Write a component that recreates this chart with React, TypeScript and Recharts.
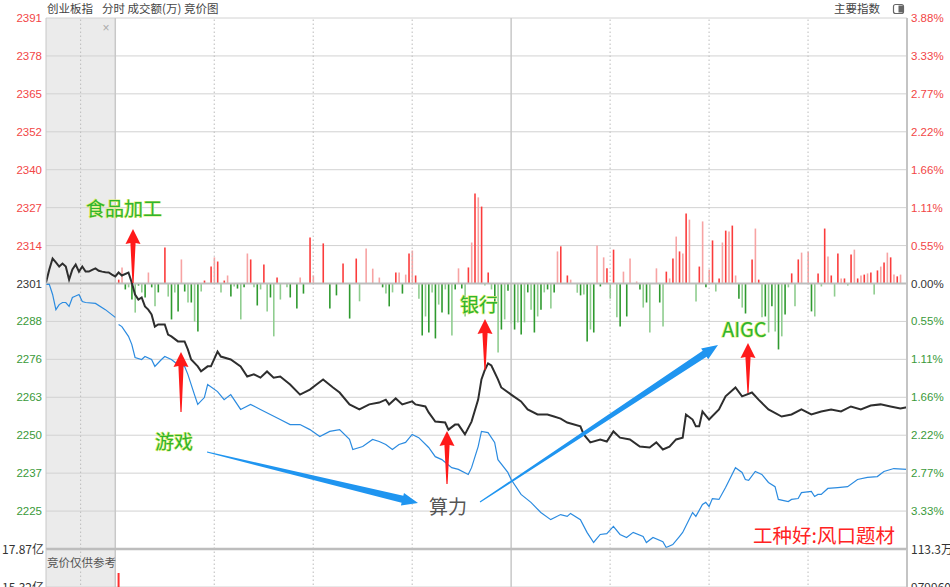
import React from 'react';
import { ComposedChart, Line, Bar, XAxis, YAxis, CartesianGrid, ReferenceLine, Cell } from 'recharts';

// ---------- scale constants ----------
const PREV_CLOSE = 2301.2;
const STEP = 12.77;
const PCT_STEP = (STEP / PREV_CLOSE) * 100;
const T_MIN = -21;
const T_MAX = 240;

// ---------- tick labels ----------
const priceTickLabels = ['2225', '2237', '2250', '2263', '2276', '2288', '2301', '2314', '2327', '2340', '2352', '2365', '2378', '2391'];
const pctTickLabels = ['3.33%', '2.77%', '2.22%', '1.66%', '1.11%', '0.55%', '0.00%', '0.55%', '1.11%', '1.66%', '2.22%', '2.77%', '3.33%', '3.88%'];
const volLeftLabels = ['15.32亿', '17.87亿'];
const volRightLabels = ['979960', '113.3万'];

// ---------- series (minute, value) ----------
const indexLine: [number, number][] = [
  [-21, 2301.5], [-20, 2305.9], [-19, 2309.6], [-18, 2308.3], [-17, 2306.9], [-16, 2307.9], [-15, 2306.9], [-14, 2302.5],
  [-13, 2305.9], [-12, 2307.6], [-11, 2305.2], [-10, 2306.9], [-9, 2305.2], [-8, 2305.2], [-7, 2305.8], [-6, 2306.3],
  [-5, 2305.5], [-4, 2305.2], [-3, 2305.0], [-2, 2304.9], [-1, 2304.2], [0, 2303.6],
  [1, 2304.9], [2, 2303.9], [4, 2304.9], [5, 2301.5], [6, 2297.5], [7, 2295.8], [8, 2296.5], [9, 2293.5], [10, 2292.4],
  [11, 2290.8], [12, 2286.7], [13, 2287.4], [15, 2287.4], [16, 2284.0], [17, 2283.4], [19, 2281.7], [21, 2281.7],
  [22, 2279.0], [23, 2275.6], [25, 2273.3], [26, 2271.6], [28, 2273.3], [29, 2273.3], [31, 2278.3], [32, 2276.6],
  [35, 2275.6], [38, 2273.3], [40, 2269.9], [42, 2270.6], [44, 2269.5], [46, 2271.6], [48, 2269.5], [50, 2269.9],
  [53, 2267.2], [56, 2263.8], [59, 2265.5], [61, 2267.2], [63, 2268.9], [66, 2266.2], [68, 2264.5], [71, 2260.5],
  [74, 2258.8], [77, 2260.5], [80, 2261.1], [82, 2262.1], [83, 2260.5], [85, 2262.5], [87, 2260.5], [90, 2261.5],
  [91, 2260.5], [94, 2259.8], [95, 2257.8], [97, 2254.7], [100, 2254.4], [101, 2252.0], [103, 2253.7], [104, 2253.7],
  [106, 2250.4], [108, 2254.7], [110, 2262.1], [111, 2268.9], [112, 2272.0], [113, 2274.3], [114, 2273.6], [116, 2268.9],
  [117, 2266.2], [120, 2263.8], [123, 2261.5], [125, 2258.8], [128, 2257.1], [131, 2257.1], [133, 2256.4], [135, 2255.7],
  [137, 2254.4], [141, 2253.1], [142, 2250.4], [144, 2247.7], [147, 2248.7], [149, 2248.0], [151, 2251.4], [153, 2249.3],
  [156, 2248.7], [159, 2246.3], [162, 2246.0], [164, 2247.7], [166, 2245.3], [168, 2246.3], [170, 2248.7], [172, 2249.3],
  [173, 2257.1], [175, 2255.4], [176, 2253.1], [177, 2253.1], [178, 2258.1], [180, 2255.4], [183, 2258.8], [185, 2263.2],
  [188, 2266.2], [190, 2263.2], [193, 2264.5], [195, 2262.1], [198, 2258.8], [202, 2256.4], [205, 2257.1], [208, 2258.8],
  [211, 2257.1], [214, 2258.1], [217, 2258.8], [220, 2258.1], [223, 2259.8], [226, 2258.8], [229, 2260.1], [232, 2260.5],
  [235, 2259.8], [238, 2259.1], [240, 2259.5],
];

const leadAuction: [number, number][] = [
  [-21, 2300.9], [-20, 2300.9], [-19, 2297.5], [-18, 2292.4], [-17, 2294.1], [-16, 2294.8], [-15, 2294.8], [-14, 2293.5],
  [-13, 2296.5], [-12, 2297.0], [-11, 2297.5], [-10, 2295.1], [-9, 2294.8], [-6, 2294.5], [-3, 2292.4], [0, 2289.8],
];

const leadSession: [number, number][] = [
  [1, 2287.4], [2, 2286.7], [4, 2283.4], [5, 2280.7], [6, 2276.3], [8, 2275.6], [9, 2276.6], [11, 2275.6], [12, 2273.3],
  [14, 2275.6], [15, 2276.6], [17, 2275.6], [19, 2273.9], [21, 2273.3], [22, 2270.6], [24, 2263.8], [25, 2260.5],
  [27, 2262.8], [28, 2267.2], [31, 2264.8], [33, 2262.1], [35, 2263.8], [38, 2258.8], [41, 2260.5], [44, 2258.8],
  [47, 2257.1], [50, 2255.4], [53, 2253.7], [56, 2253.7], [59, 2252.0], [62, 2249.7], [65, 2251.4], [68, 2252.0],
  [71, 2248.7], [72, 2245.3], [75, 2246.3], [78, 2248.7], [80, 2248.0], [82, 2247.0], [84, 2245.3], [86, 2247.0],
  [88, 2247.7], [90, 2250.4], [92, 2249.3], [95, 2246.0], [97, 2242.9], [99, 2241.9], [102, 2239.2], [104, 2238.6],
  [107, 2236.9], [108, 2239.2], [110, 2246.3], [111, 2251.4], [113, 2251.0], [115, 2247.7], [116, 2241.9], [119, 2237.6],
  [120, 2235.2], [123, 2230.2], [126, 2227.5], [129, 2224.1], [132, 2221.7], [135, 2223.4], [137, 2222.8], [138, 2223.8],
  [141, 2221.7], [143, 2217.4], [145, 2214.0], [147, 2216.7], [149, 2217.0], [151, 2219.4], [153, 2216.7], [155, 2215.7],
  [157, 2217.4], [160, 2216.0], [161, 2214.0], [163, 2215.7], [166, 2214.3], [167, 2212.3], [169, 2213.3], [171, 2216.0],
  [172, 2217.4], [175, 2224.1], [176, 2222.8], [178, 2226.8], [179, 2227.5], [180, 2226.1], [181, 2228.8], [183, 2228.5],
  [185, 2232.5], [188, 2239.2], [190, 2237.6], [191, 2235.2], [192, 2234.9], [194, 2237.9], [196, 2236.9], [198, 2234.2],
  [200, 2232.8], [201, 2228.5], [204, 2227.8], [205, 2228.5], [207, 2228.8], [208, 2230.8], [211, 2231.2], [212, 2229.5],
  [213, 2230.2], [214, 2230.2], [216, 2232.2], [219, 2232.5], [222, 2232.8], [225, 2235.2], [228, 2235.9], [231, 2236.2],
  [233, 2237.9], [236, 2238.9], [240, 2238.6],
];

// breadth bars, in index points above / below the previous close line
const breadthBars: [number, number][] = [
  [1, 1.3], [2, 5.4], [3, -2.0], [4, -1.3], [5, -5.4], [6, -9.8], [7, -0.7], [8, -3.0], [9, -4.7], [10, 3.7], [11, -1.3],
  [12, -7.7], [13, -3.0], [15, 12.1], [16, -4.4], [17, -12.1], [18, -3.0], [19, -9.4], [20, 8.1], [21, -2.7], [22, -6.4],
  [23, -6.4], [24, -12.8], [25, -16.2], [26, -2.7], [27, 1.0], [29, 5.7], [30, 8.8], [31, 7.4], [32, -3.0], [33, 1.0],
  [34, 2.7], [35, -4.4], [36, -1.0], [37, -1.7], [38, -12.1], [39, -1.3], [40, 10.1], [41, 8.1], [42, -1.3], [43, -7.4],
  [44, -2.0], [45, 6.4], [46, -9.4], [47, -4.7], [48, -17.8], [49, 2.0], [50, -5.4], [52, -1.3], [53, -4.7], [55, -8.4],
  [56, 2.0], [57, -3.4], [59, 15.5], [60, 2.7], [63, 13.5], [65, -8.4], [67, -4.0], [69, 6.7], [71, -11.8], [73, 8.4],
  [74, -6.0], [76, 11.8], [78, 5.0], [80, 2.0], [81, -1.3], [82, -3.4], [83, -7.7], [84, -3.0], [85, 3.7], [86, 3.7],
  [87, -3.4], [88, 3.0], [89, 10.1], [90, 11.1], [91, 2.7], [92, -5.1], [93, -17.5], [94, -11.1], [95, -16.5], [96, -3.0],
  [97, -18.5], [98, -7.1], [99, -9.8], [100, -2.0], [101, -10.4], [102, -17.5], [103, -2.0], [104, 5.1], [105, -1.7],
  [106, -11.1], [107, 5.4], [108, 13.8], [109, 30.3], [110, 29.0], [111, 25.9], [112, -0.7], [113, 3.7], [114, -2.0],
  [115, -6.7], [116, -23.2], [117, -15.5], [118, -12.1], [119, -2.4], [120, -13.5], [121, -15.5], [122, -13.1],
  [123, -17.2], [124, -13.1], [125, -3.0], [126, -8.8], [127, -16.5], [128, -11.1], [129, -8.8], [130, -3.0], [131, -2.0],
  [132, -8.4], [133, -3.0], [134, 10.8], [135, 12.5], [137, 2.7], [138, 1.3], [140, -3.1], [141, -4.0], [142, -3.7],
  [143, -19.5], [144, -15.5], [145, -16.5], [146, 12.8], [147, -1.0], [148, 8.8], [149, 5.1], [150, -5.1], [151, 11.4],
  [152, -11.4], [153, -14.5], [154, 4.0], [155, -11.1], [156, 8.4], [158, 0.7], [159, -2.0], [160, -8.1], [161, -6.4],
  [162, -16.5], [164, 5.1], [165, -6.4], [166, -14.5], [167, 4.0], [168, 1.7], [169, 8.4], [170, 15.8], [171, 10.8],
  [172, 10.1], [173, 23.6], [174, 21.5], [176, -6.1], [177, 5.7], [178, 20.9], [179, -1.3], [180, 4.7], [181, 14.5],
  [182, -2.7], [183, 1.7], [184, 13.8], [185, 17.8], [186, 17.5], [187, 19.5], [188, 2.7], [189, -5.1], [190, -8.1],
  [191, -10.1], [193, 8.1], [194, 18.5], [195, 1.3], [196, -11.4], [197, -11.1], [198, -16.5], [199, -7.7], [200, -16.2],
  [201, -22.2], [202, -17.8], [203, -10.4], [204, -1.3], [205, 3.4], [206, -7.7], [207, 8.1], [208, 10.4], [210, 10.8],
  [211, -9.4], [212, -11.1], [213, 3.4], [214, -1.0], [215, 18.5], [216, 9.1], [217, 2.7], [218, -4.4], [219, 10.1],
  [220, 1.7], [221, 1.7], [222, -0.7], [223, 9.8], [224, 11.4], [225, 1.7], [226, 2.7], [227, 3.0], [228, 3.4], [229, 3.7],
  [230, -3.7], [231, 4.4], [232, 5.7], [233, 7.1], [234, 10.4], [235, 8.8], [236, 3.0], [237, 2.4], [238, 3.0], [240, -2.0],
];

const auctionVolume: [number, number][] = [[1, 16.26]];

// ---------- build rows ----------
type Row = { t: number; idx?: number; leadA?: number; lead?: number; bar?: number };
const rowMap = new Map<number, Row>();
const put = (t: number, key: keyof Row, v: number) => {
  const r = rowMap.get(t) ?? { t };
  (r as any)[key] = v;
  rowMap.set(t, r);
};
indexLine.forEach(([t, v]) => put(t, 'idx', v));
leadAuction.forEach(([t, v]) => put(t, 'leadA', v));
leadSession.forEach(([t, v]) => put(t, 'lead', v));
// bars are drawn on the percent axis (0% = previous close)
breadthBars.forEach(([t, v]) => put(t, 'bar', (v / PREV_CLOSE) * 100));
const data: Row[] = Array.from(rowMap.values()).sort((a, b) => a.t - b.t);
const volData = auctionVolume.map(([t, v]) => ({ t, v }));

// ---------- styles ----------
const W = 950;
const LEFT_W = 46;
const RIGHT_W = 43;
const TOP = 18;
const MAIN_BOTTOM = 549;
const PLOT_W = W - LEFT_W - RIGHT_W;
const xOf = (t: number) => LEFT_W + ((t - T_MIN) * PLOT_W) / (T_MAX - T_MIN);

const RED_TXT = '#f24646';
const GREEN_TXT = '#3a9a3a';
const BASE_TXT = '#333333';
const GRID = '#d2d2d2';
const NUM_FONT = '"Liberation Sans", Arial, sans-serif';
const CJK_FONT = '"Noto Sans CJK SC", "Noto Sans", sans-serif';

const priceTicks = priceTickLabels.map((_, i) => PREV_CLOSE + (i - 6) * STEP);
const pctTicks = pctTickLabels.map((_, i) => (i - 6) * PCT_STEP);

const PriceTick = (props: any) => {
  const { y, payload } = props;
  const k = Math.round((payload.value - PREV_CLOSE) / STEP);
  const color = k > 0 ? RED_TXT : k < 0 ? GREEN_TXT : BASE_TXT;
  return (
    <text x={LEFT_W - 4} y={y} dy={4} textAnchor="end" fill={color} fontSize={11.5} fontFamily={NUM_FONT}>
      {priceTickLabels[k + 6]}
    </text>
  );
};

const PctTick = (props: any) => {
  const { y, payload } = props;
  const k = Math.round(payload.value / PCT_STEP);
  const color = k > 0 ? RED_TXT : k < 0 ? GREEN_TXT : BASE_TXT;
  return (
    <text x={W - RIGHT_W + 4} y={y} dy={4} textAnchor="start" fill={color} fontSize={11.5} fontFamily={NUM_FONT}>
      {pctTickLabels[k + 6]}
    </text>
  );
};

const VOL_TOP = 17.87;
const VOL_MID = 15.32;
const VOL_PX = (VOL_TOP - VOL_MID) / 38;
const AMT_TOP = 113.3;
const AMT_MID = 97.996;
const AMT_PX = (AMT_TOP - AMT_MID) / 38;
const VOL_CHART_TOP = 529;
const VOL_PLOT_H = 80;

const VolLeftTick = (props: any) => {
  const { y, index } = props;
  return (
    <text x={LEFT_W - 2} y={y} dy={5} textAnchor="end" fill="#333" fontSize={12} fontFamily={CJK_FONT}>
      {volLeftLabels[index]}
    </text>
  );
};
const VolRightTick = (props: any) => {
  const { y, index } = props;
  return (
    <text x={W - RIGHT_W + 4} y={y} dy={5} textAnchor="start" fill="#333" fontSize={12} fontFamily={CJK_FONT}>
      {volRightLabels[index]}
    </text>
  );
};

// ---------- annotation shapes ----------
const redArrow = (x: number, tip: number, headBase: number, tail: number) =>
  `M${x},${tip} L${x + 7.5},${headBase} L${x + 2.6},${headBase - 1} L${x + 0.6},${tail} L${x - 0.6},${tail} L${x - 2.6},${headBase - 1} L${x - 7.5},${headBase} Z`;

const blueArrow = (x1: number, y1: number, x2: number, y2: number) => {
  const dx = x2 - x1;
  const dy = y2 - y1;
  const len = Math.hypot(dx, dy);
  const ux = dx / len;
  const uy = dy / len;
  const nx = -uy;
  const ny = ux;
  const h = 16;
  const bx = x2 - ux * h;
  const by = y2 - uy * h;
  const p = (px: number, py: number) => `${px.toFixed(1)},${py.toFixed(1)}`;
  return `M${p(x1 + nx * 0.6, y1 + ny * 0.6)} L${p(bx + nx * 3.6, by + ny * 3.6)} L${p(bx + nx * 6.5, by + ny * 6.5)} L${p(x2, y2)} L${p(bx - nx * 6.5, by - ny * 6.5)} L${p(bx - nx * 3.6, by - ny * 3.6)} L${p(x1 - nx * 0.6, y1 - ny * 0.6)} Z`;
};

const barColor = (r: Row) => {
  const v = r.bar ?? 0;
  const light = r.t % 2 === 0;
  if (v >= 0) return light ? '#f7a3a3' : '#fb3c3c';
  return light ? '#8fcd8f' : '#2f9a2f';
};

const greenLabel = {
  fill: '#2fb52f',
  stroke: '#e2ef7a',
  strokeWidth: 1.2,
  paintOrder: 'stroke' as const,
  fontFamily: CJK_FONT,
};

export default function App() {
  const sessionStartX = xOf(0);
  return (
    <div style={{ position: 'absolute', left: 0, top: 0, width: W, height: 587, overflow: 'hidden', background: '#fff' }}>
      {/* auction shading */}
      <div
        style={{
          position: 'absolute',
          left: LEFT_W,
          top: TOP,
          width: sessionStartX - LEFT_W,
          height: 587 - TOP,
          background: '#ebebeb',
        }}
      />
      {/* main chart */}
      <div style={{ position: 'absolute', left: 0, top: 0 }}>
        <ComposedChart width={W} height={MAIN_BOTTOM} data={data} margin={{ top: TOP, right: 0, bottom: 0, left: 0 }}>
          <XAxis dataKey="t" type="number" domain={[T_MIN, T_MAX]} hide allowDataOverflow />
          <YAxis
            yAxisId="price"
            orientation="left"
            width={LEFT_W}
            domain={[PREV_CLOSE - 7 * STEP, PREV_CLOSE + 7 * STEP]}
            ticks={priceTicks}
            interval={0}
            tick={<PriceTick />}
            tickSize={0}
            tickMargin={4}
            tickLine={false}
            axisLine={{ stroke: '#c8c8c8' }}
            allowDataOverflow
          />
          <YAxis
            yAxisId="pct"
            orientation="right"
            width={RIGHT_W}
            domain={[-7 * PCT_STEP, 7 * PCT_STEP]}
            ticks={pctTicks}
            interval={0}
            tick={<PctTick />}
            tickSize={0}
            tickMargin={4}
            tickLine={false}
            axisLine={{ stroke: '#c4c4c4', strokeWidth: 2 }}
            allowDataOverflow
          />
          <CartesianGrid yAxisId="price" vertical={false} stroke={GRID} strokeWidth={1} />
          {[-10.5, 30, 60, 90, 150, 180, 210].map((t) => (
            <ReferenceLine key={t} x={t} yAxisId="price" stroke="#bcbcbc" strokeDasharray="1.5 2.5" />
          ))}
          {[0, 120].map((t) => (
            <ReferenceLine key={t} x={t} yAxisId="price" stroke="#c8c8c8" strokeWidth={1.5} />
          ))}
          <ReferenceLine y={PREV_CLOSE} yAxisId="price" stroke="#bdbdbd" strokeWidth={2} />
          <Bar dataKey="bar" yAxisId="pct" barSize={1.6} isAnimationActive={false}>
            {data.map((r, i) => (
              <Cell key={i} fill={barColor(r)} />
            ))}
          </Bar>
          <Line
            dataKey="leadA"
            yAxisId="price"
            stroke="#2b8be0"
            strokeWidth={1.2}
            dot={false}
            activeDot={false}
            connectNulls
            isAnimationActive={false}
          />
          <Line
            dataKey="lead"
            yAxisId="price"
            stroke="#2b8be0"
            strokeWidth={1.2}
            dot={false}
            activeDot={false}
            connectNulls
            isAnimationActive={false}
          />
          <Line
            dataKey="idx"
            yAxisId="price"
            stroke="#2e2e2e"
            strokeWidth={2}
            dot={false}
            activeDot={false}
            connectNulls
            isAnimationActive={false}
          />
        </ComposedChart>
      </div>
      {/* auction volume panel */}
      <div style={{ position: 'absolute', left: 0, top: VOL_CHART_TOP }}>
        <ComposedChart
          width={W}
          height={MAIN_BOTTOM - VOL_CHART_TOP + VOL_PLOT_H}
          data={volData}
          margin={{ top: MAIN_BOTTOM - VOL_CHART_TOP, right: 0, bottom: 0, left: 0 }}
        >
          <XAxis dataKey="t" type="number" domain={[T_MIN, T_MAX]} hide allowDataOverflow />
          <YAxis
            yAxisId="vol"
            orientation="left"
            width={LEFT_W}
            domain={[VOL_TOP - VOL_PLOT_H * VOL_PX, VOL_TOP]}
            ticks={[VOL_MID, VOL_TOP]}
            interval={0}
            tick={<VolLeftTick />}
            tickSize={0}
            tickMargin={2}
            tickLine={false}
            axisLine={{ stroke: '#c8c8c8' }}
            allowDataOverflow
          />
          <YAxis
            yAxisId="amt"
            orientation="right"
            width={RIGHT_W}
            domain={[AMT_TOP - VOL_PLOT_H * AMT_PX, AMT_TOP]}
            ticks={[AMT_MID, AMT_TOP]}
            interval={0}
            tick={<VolRightTick />}
            tickSize={0}
            tickMargin={4}
            tickLine={false}
            axisLine={{ stroke: '#c4c4c4', strokeWidth: 2 }}
            allowDataOverflow
          />
          <CartesianGrid yAxisId="vol" vertical={false} stroke={GRID} />
          {[-10.5, 30, 60, 90, 150, 180, 210].map((t) => (
            <ReferenceLine key={t} x={t} yAxisId="vol" stroke="#bcbcbc" strokeDasharray="1.5 2.5" />
          ))}
          {[0, 120].map((t) => (
            <ReferenceLine key={t} x={t} yAxisId="vol" stroke="#c8c8c8" strokeWidth={1.5} />
          ))}
          <ReferenceLine y={VOL_TOP} yAxisId="vol" stroke="#bdbdbd" strokeWidth={2.5} />
          <Bar dataKey="v" yAxisId="vol" fill="#ff3030" barSize={2} isAnimationActive={false} />
        </ComposedChart>
      </div>
      {/* overlay texts and hand-drawn annotations */}
      <svg width={W} height={587} style={{ position: 'absolute', left: 0, top: 0, pointerEvents: 'none' }}>
        <text x={47} y={13} fontSize={11.5} fill="#444" fontFamily={CJK_FONT}>创业板指</text>
        <text x={102} y={13} fontSize={11.5} fill="#444" fontFamily={CJK_FONT}>分时 成交额(万) 竞价图</text>
        <text x={834} y={13} fontSize={11.5} fill="#444" fontFamily={CJK_FONT}>主要指数</text>
        <rect x={893.5} y={4.5} width={10} height={9} rx={2} fill="#fff" stroke="#666" strokeWidth={1.2} />
        <rect x={898.5} y={5.5} width={4.5} height={7} fill="#666" />
        <text x={106} y={32} fontSize={12} fill="#aaa" textAnchor="middle" fontFamily={NUM_FONT}>×</text>
        <text x={47} y={567} fontSize={11.5} fill="#555" fontFamily={CJK_FONT}>竞价仅供参考</text>

        <text x={86} y={216} fontSize={19} {...greenLabel}>食品加工</text>
        <text x={460} y={312} fontSize={19} {...greenLabel}>银行</text>
        <text x={722} y={337} fontSize={20} {...greenLabel}>AIGC</text>
        <text x={155} y={449} fontSize={19} {...greenLabel}>游戏</text>
        <text x={429} y={514} fontSize={19} fill="#555" fontFamily={CJK_FONT}>算力</text>
        <text x={753} y={543} fontSize={19.5} fill="#ff2323" fontFamily={CJK_FONT}>工种好:风口题材</text>

        <path d={redArrow(133, 229, 244, 283)} fill="#ff1a1a" />
        <path d={redArrow(181, 352, 367, 412)} fill="#ff1a1a" />
        <path d={redArrow(485, 319, 334, 370)} fill="#ff1a1a" />
        <path d={redArrow(447, 431, 446, 484)} fill="#ff1a1a" />
        <path d={redArrow(748, 343, 358, 393)} fill="#ff1a1a" />

        <path d={blueArrow(207, 452, 418, 503)} fill="#1f95f0" />
        <path d={blueArrow(480, 502, 718, 345)} fill="#1f95f0" />
      </svg>
    </div>
  );
}
